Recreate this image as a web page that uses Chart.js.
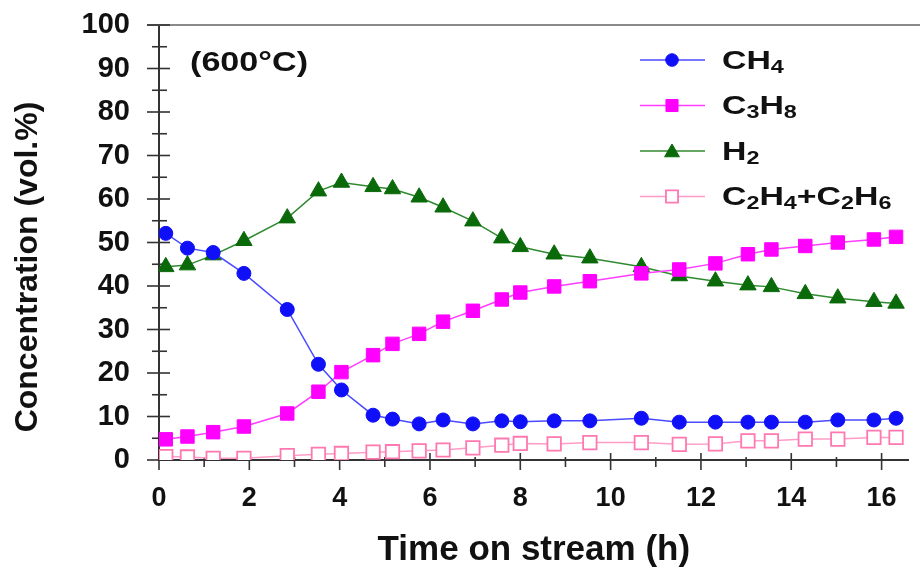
<!DOCTYPE html>
<html lang="en">
<head>
<meta charset="UTF-8" />
<title>Concentration vs time on stream (600°C)</title>
<style>
  html, body { margin: 0; padding: 0; background: #fff; }
  #chart { display: block; }
</style>
</head>
<body>
<canvas id="chart" width="920" height="569"></canvas>
<script src="https://cdn.jsdelivr.net/npm/chart.js"></script>
<script>
// values
const times = [0.15, 0.63, 1.2, 1.88, 2.84, 3.53, 4.04, 4.74, 5.17, 5.76, 6.29, 6.95, 7.59, 8.0, 8.75, 9.54, 10.68, 11.52, 12.32, 13.04, 13.56, 14.31, 15.03, 15.83, 16.32];
const ch4  = [52.1, 48.7, 47.7, 42.9, 34.6, 22.0, 16.1, 10.3, 9.4, 8.3, 9.2, 8.3, 9.0, 8.8, 9.0, 9.0, 9.6, 8.7, 8.7, 8.7, 8.7, 8.7, 9.2, 9.2, 9.6];
const c3h8 = [4.75, 5.4, 6.4, 7.7, 10.7, 15.7, 20.2, 24.1, 26.7, 29.0, 31.8, 34.3, 36.9, 38.5, 39.9, 41.1, 42.9, 43.8, 45.2, 47.3, 48.4, 49.2, 50.0, 50.7, 51.3];
const h2   = [44.4, 44.8, 47.1, 50.4, 55.6, 61.8, 63.8, 62.8, 62.3, 60.4, 58.1, 54.9, 51.0, 49.0, 47.3, 46.4, 44.4, 42.3, 41.1, 40.2, 39.8, 38.2, 37.2, 36.4, 36.0];
const c2   = [0.8, 0.7, 0.4, 0.4, 1.0, 1.3, 1.5, 1.8, 1.9, 2.1, 2.3, 2.8, 3.4, 3.8, 3.7, 4.0, 4.0, 3.6, 3.7, 4.4, 4.4, 4.8, 4.8, 5.2, 5.2];

const xTickValues = [0, 2, 4, 6, 8, 10, 12, 14, 16];
const yTickValues = [0, 10, 20, 30, 40, 50, 60, 70, 80, 90, 100];
const xMinorTicks = [0, 1, 2, 3, 4, 5, 6, 7, 8, 9, 10, 11, 12, 13, 14, 15, 16];
const yMinorTicks = [0, 5, 10, 15, 20, 25, 30, 35, 40, 45, 50, 55, 60, 65, 70, 75, 80, 85, 90, 95, 100];

// legend labels with subscripts: [text, isSub]
const legendParts = [
  [['CH', 0], ['4', 1]],
  [['C', 0], ['3', 1], ['H', 0], ['8', 1]],
  [['H', 0], ['2', 1]],
  [['C', 0], ['2', 1], ['H', 0], ['4', 1], ['+C', 0], ['2', 1], ['H', 0], ['6', 1]]
];

const FONT = "'Liberation Sans', Arial, sans-serif";
Chart.defaults.font.family = FONT;

const pts = arr => arr.map((v, i) => ({ x: times[i], y: v }));

function marker(ctx, style, x, y, r, fill, stroke, lw) {
  ctx.beginPath();
  if (style === 'circle') {
    ctx.arc(x, y, r, 0, Math.PI * 2);
  } else if (style === 'rect') {
    const s = r * Math.SQRT1_2;
    ctx.rect(x - s, y - s, 2 * s, 2 * s);
  } else {
    ctx.moveTo(x, y - r);
    ctx.lineTo(x + r * 0.866, y + r * 0.5);
    ctx.lineTo(x - r * 0.866, y + r * 0.5);
    ctx.closePath();
  }
  ctx.fillStyle = fill; ctx.fill();
  ctx.lineWidth = lw; ctx.strokeStyle = stroke; ctx.stroke();
}

const tickMarks = {
  id: 'tickMarks',
  beforeDatasetsDraw(chart) {
    const { ctx, scales: { x, y }, chartArea } = chart;
    ctx.save();
    ctx.strokeStyle = '#8a8a8a';
    ctx.lineWidth = 2;
    ctx.beginPath();
    ctx.moveTo(x.left - 12, chartArea.top);
    ctx.lineTo(chart.width, chartArea.top);
    ctx.stroke();
    ctx.strokeStyle = '#333';
    ctx.lineWidth = 1.6;
    yMinorTicks.forEach(v => {
      const py = y.getPixelForValue(v);
      const major = v % 10 === 0;
      ctx.beginPath();
      ctx.moveTo(x.left - (major ? 12 : 7), py);
      ctx.lineTo(x.left + (major ? 11 : 8), py);
      ctx.stroke();
    });
    xMinorTicks.forEach(v => {
      const px = x.getPixelForValue(v);
      const major = v % 2 === 0;
      ctx.beginPath();
      ctx.moveTo(px, y.bottom - (major ? 7 : 3));
      ctx.lineTo(px, y.bottom + (major ? 10 : 7));
      ctx.stroke();
    });
    ctx.restore();
  }
};

function drawChem(ctx, parts, x, y, size, stretch) {
  ctx.save();
  ctx.translate(x, y);
  ctx.scale(stretch, 1);
  ctx.fillStyle = '#111';
  ctx.textBaseline = 'alphabetic';
  ctx.textAlign = 'left';
  let cx = 0;
  parts.forEach(([txt, sub]) => {
    ctx.font = 'bold ' + (sub ? Math.round(size * 0.7) : size) + 'px ' + FONT;
    ctx.fillText(txt, cx, sub ? 4 : 0);
    cx += ctx.measureText(txt).width;
  });
  ctx.restore();
}

const annotations = {
  id: 'annotations',
  afterDraw(chart) {
    const { ctx } = chart;
    const sets = chart.data.datasets;
    ctx.save();
    // legend
    sets.forEach((ds, i) => {
      const ry = 60 + i * 45.5;
      ctx.strokeStyle = ds.borderColor;
      ctx.lineWidth = ds.borderWidth;
      ctx.beginPath();
      ctx.moveTo(640, ry);
      ctx.lineTo(705, ry);
      ctx.stroke();
      const dy = ds.pointStyle === 'triangle' ? 1.5 : 0;
      marker(ctx, ds.pointStyle, 672, ry + dy, ds.pointRadius * 0.9, ds.pointBackgroundColor, ds.pointBorderColor, ds.pointBorderWidth);
      drawChem(ctx, legendParts[i], 722, ry + 8.5, 26, 1.3);
    });
    // temperature note
    ctx.save();
    ctx.translate(190, 71);
    ctx.scale(1.22, 1);
    ctx.font = 'bold 28px ' + FONT;
    ctx.fillStyle = '#111';
    ctx.fillText('(600°C)', 0, 0);
    ctx.restore();
    // y axis title
    ctx.save();
    ctx.translate(28.5, 267);
    ctx.rotate(-Math.PI / 2);
    ctx.font = 'bold 32px ' + FONT;
    ctx.fillStyle = '#111';
    ctx.textAlign = 'center';
    ctx.textBaseline = 'middle';
    ctx.fillText('Concentration (vol.%)', 0, 0);
    ctx.restore();
    ctx.restore();
  }
};

new Chart(document.getElementById('chart'), {
  type: 'scatter',
  data: {
    datasets: [
      {
        label: 'CH₄', data: pts(ch4), showLine: true,
        borderColor: '#4a4aff', borderWidth: 1.5,
        pointStyle: 'circle', pointRadius: 7,
        pointBackgroundColor: '#1010f8', pointBorderColor: '#1010f8', pointBorderWidth: 1
      },
      {
        label: 'C₃H₈', data: pts(c3h8), showLine: true,
        borderColor: '#ff3cff', borderWidth: 1.5,
        pointStyle: 'rect', pointRadius: 9.5,
        pointBackgroundColor: '#ff00ff', pointBorderColor: '#ff00ff', pointBorderWidth: 1
      },
      {
        label: 'H₂', data: pts(h2), showLine: true,
        borderColor: '#2f8a2f', borderWidth: 1.5,
        pointStyle: 'triangle', pointRadius: 9.5,
        pointBackgroundColor: '#0a6a0a', pointBorderColor: '#0a6a0a', pointBorderWidth: 1
      },
      {
        label: 'C₂H₄+C₂H₆', data: pts(c2), showLine: true,
        borderColor: '#ff9cc8', borderWidth: 1.5,
        pointStyle: 'rect', pointRadius: 9.5,
        pointBackgroundColor: '#ffffff', pointBorderColor: '#ff78b0', pointBorderWidth: 1.8
      }
    ]
  },
  options: {
    responsive: false,
    animation: false,
    devicePixelRatio: 1,
    layout: { padding: { top: 25, right: 2, left: 0, bottom: 0 } },
    plugins: { legend: { display: false }, tooltip: { enabled: false } },
    scales: {
      x: {
        type: 'linear', position: 'bottom', min: 0, max: 16.6,
        afterBuildTicks: s => { s.ticks = xTickValues.map(v => ({ value: v })); },
        afterFit: s => { s.height = 109; },
        grid: { display: false, drawTicks: false },
        border: { display: true, color: '#333', width: 2 },
        ticks: { color: '#111', font: { size: 27, weight: 'bold' }, padding: 22, maxRotation: 0, autoSkip: false },
        title: {
          display: true, text: 'Time on stream (h)', color: '#111',
          font: { size: 35, weight: 'bold', lineHeight: 1 }, padding: { top: 0, bottom: 1 }
        }
      },
      y: {
        min: 0, max: 100,
        afterBuildTicks: s => { s.ticks = yTickValues.map(v => ({ value: v })); },
        afterFit: s => { s.width = 159; s.paddingTop = 0; s.paddingBottom = 0; },
        grid: { display: false, drawTicks: false },
        border: { display: true, color: '#333', width: 2 },
        ticks: { color: '#111', font: { size: 29, weight: 'bold' }, padding: 29 }
      }
    }
  },
  plugins: [tickMarks, annotations]
});
</script>
</body>
</html>
